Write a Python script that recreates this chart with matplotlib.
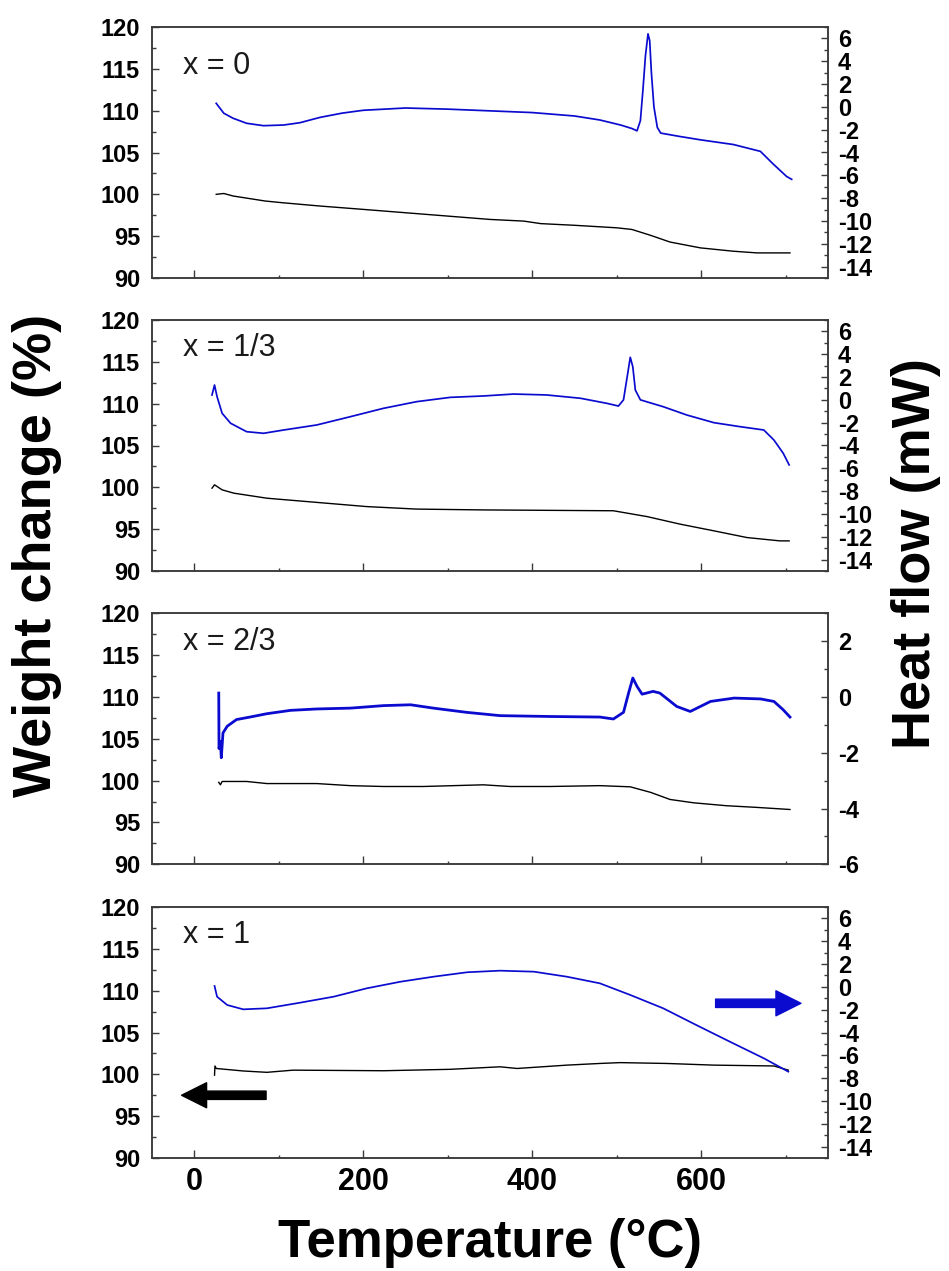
"""TGA / DSC panels for the four compositions (x = 0, 1/3, 2/3, 1)."""

import matplotlib

matplotlib.use("Agg")
import matplotlib.pyplot as plt
from matplotlib.ticker import MultipleLocator

plt.rcParams.update(
    {
        "font.family": ["Liberation Sans", "DejaVu Sans"],
        "font.weight": "bold",
        "axes.unicode_minus": False,
    }
)

COLOR_HF = "#0b0bd0"
COLOR_WT = "#000000"
COLOR_FRAME = "#3a3a3a"

LABELS = ["x = 0", "x = 1/3", "x = 2/3", "x = 1"]

# x = 0
T_HF_0 = [26, 35, 46, 62, 82, 106, 125, 149, 175, 200, 250, 300, 350, 400, 450, 480,
          505, 518, 524, 528, 531, 534, 537, 539, 541, 544, 548, 552, 575, 600, 638,
          670, 685, 701, 707]
HF_0 = [0.31, -0.56, -1.0, -1.44, -1.65, -1.59, -1.39, -0.92, -0.55, -0.3, -0.1, -0.2,
        -0.35, -0.5, -0.8, -1.15, -1.6, -1.9, -2.1, -1.2, 1.5, 4.5, 6.4, 5.8, 3.0, 0.0,
        -1.8, -2.3, -2.6, -2.9, -3.3, -3.9, -5.0, -6.1, -6.35]
T_WT_0 = [26, 35, 46, 84, 104, 149, 200, 250, 300, 350, 390, 410, 450, 500, 518, 540,
          563, 599, 638, 666, 705]
WT_0 = [100.0, 100.1, 99.8, 99.2, 99.0, 98.6, 98.2, 97.8, 97.4, 97.0, 96.8, 96.5, 96.3,
        96.0, 95.8, 95.1, 94.3, 93.6, 93.2, 93.0, 93.0]

# x = 1/3
T_HF_1 = [21, 24, 27, 33, 43, 62, 82, 106, 145, 185, 224, 263, 303, 342, 378, 417, 457,
          488, 502, 508, 513, 516, 519, 522, 528, 555, 583, 615, 646, 674, 686, 697, 704]
HF_1 = [0.43, 1.3, 0.28, -1.18, -2.05, -2.79, -2.93, -2.64, -2.2, -1.47, -0.74, -0.16,
        0.22, 0.34, 0.51, 0.43, 0.14, -0.3, -0.54, 0.0, 2.33, 3.73, 2.9, 0.86, 0.0,
        -0.6, -1.33, -2.0, -2.35, -2.64, -3.52, -4.68, -5.7]
T_WT_1 = [21, 24, 33, 47, 86, 145, 204, 263, 342, 496, 536, 575, 615, 654, 693, 704]
WT_1 = [99.9, 100.3, 99.7, 99.3, 98.7, 98.2, 97.7, 97.4, 97.3, 97.2, 96.5, 95.6, 94.8,
        94.0, 93.6, 93.6]

# x = 2/3
T_HF_2 = [29, 29.3, 31, 32, 34, 39, 50, 66, 86, 114, 145, 185, 224, 256, 283, 322, 362,
          421, 480, 496, 508, 514, 519, 524, 530, 543, 551, 571, 587, 611, 639, 670,
          686, 697, 705]
HF_2 = [0.14, -1.85, -1.6, -2.18, -1.29, -1.05, -0.81, -0.72, -0.6, -0.48, -0.43, -0.4,
        -0.31, -0.28, -0.4, -0.55, -0.67, -0.7, -0.72, -0.79, -0.55, 0.14, 0.68, 0.38,
        0.1, 0.2, 0.14, -0.34, -0.52, -0.16, -0.04, -0.07, -0.16, -0.46, -0.72]
T_WT_2 = [29, 31, 33, 62, 86, 145, 185, 224, 271, 342, 374, 421, 480, 516, 540, 563,
          591, 630, 666, 705]
WT_2 = [99.8, 99.5, 99.9, 99.9, 99.65, 99.65, 99.4, 99.3, 99.3, 99.5, 99.3, 99.3, 99.4,
        99.26, 98.6, 97.75, 97.35, 97.0, 96.8, 96.55]

# x = 1
T_HF_3 = [24, 27, 39, 58, 86, 125, 165, 204, 244, 283, 323, 362, 402, 441, 480, 516,
          555, 594, 634, 674, 703]
HF_3 = [0.08, -0.86, -1.59, -1.97, -1.88, -1.39, -0.86, -0.13, 0.45, 0.89, 1.28, 1.42,
        1.33, 0.89, 0.31, -0.71, -1.88, -3.34, -4.81, -6.26, -7.43]
T_WT_3 = [24, 24.5, 26, 58, 86, 117, 224, 303, 362, 382, 441, 480, 504, 559, 615, 686,
          703]
WT_3 = [99.9, 101.0, 100.7, 100.4, 100.24, 100.5, 100.43, 100.6, 100.9, 100.7, 101.1,
        101.3, 101.4, 101.3, 101.1, 101.0, 100.5]

HF_LIMITS = [(-15, 7), (-15, 7), (-6, 3), (-15, 7)]
LABEL_Y = [115.3, 116.6, 116.6, 116.6]

T_HF = [T_HF_0, T_HF_1, T_HF_2, T_HF_3]
HF = [HF_0, HF_1, HF_2, HF_3]
T_WT = [T_WT_0, T_WT_1, T_WT_2, T_WT_3]
WT = [WT_0, WT_1, WT_2, WT_3]

W, H = 949, 1271
fig = plt.figure(figsize=(W / 100, H / 100), dpi=100)

tops = [27, 320, 613.3, 907]
ax_h = 251
for i, top in enumerate(tops):
    ax = fig.add_axes([152 / W, 1 - (top + ax_h) / H, 676 / W, ax_h / H])
    ax2 = ax.twinx()

    ax.plot(T_WT[i], WT[i], color=COLOR_WT, lw=1.0)
    ax2.plot(T_HF[i], HF[i], color=COLOR_HF, lw=2.0 if i == 2 else 1.25)

    ax.set_xlim(-50, 750)
    ax.set_ylim(90, 120)
    ax2.set_ylim(*HF_LIMITS[i])

    ax.xaxis.set_major_locator(MultipleLocator(200))
    ax.xaxis.set_minor_locator(MultipleLocator(100))
    ax.yaxis.set_major_locator(MultipleLocator(5))
    ax.yaxis.set_minor_locator(MultipleLocator(2.5))
    ax2.yaxis.set_major_locator(MultipleLocator(2))
    ax2.yaxis.set_minor_locator(MultipleLocator(1))

    ax.tick_params(axis="x", which="both", direction="in", top=False, color=COLOR_FRAME,
                   labelbottom=(i == 3), labelsize=22, pad=6.5)
    ax.tick_params(axis="x", which="major", length=6, width=1.0)
    ax.tick_params(axis="x", which="minor", length=2.5, width=1.0)
    ax.tick_params(axis="y", which="both", direction="in", color=COLOR_FRAME,
                   labelsize=17, pad=8.6)
    ax.tick_params(axis="y", which="major", length=5, width=1.0)
    ax.tick_params(axis="y", which="minor", length=3, width=1.0)
    ax2.tick_params(axis="y", which="both", direction="in", color=COLOR_FRAME,
                    labelsize=17, pad=7.2)
    ax2.tick_params(axis="y", which="major", length=5, width=1.0)
    ax2.tick_params(axis="y", which="minor", length=3, width=1.0)

    for a in (ax, ax2):
        for sp in a.spines.values():
            sp.set_color(COLOR_FRAME)
            sp.set_linewidth(1.1)

    ax.text(-13, LABEL_Y[i], LABELS[i], fontsize=22, fontweight="normal",
            color="#1a1a1a", ha="left", va="center")

    if i == 3:
        arrow_style = "simple,head_width=1.8,head_length=1.8,tail_width=0.6"
        ax2.annotate("", xy=(718, -1.44), xytext=(617, -1.44),
                     arrowprops=dict(arrowstyle=arrow_style, mutation_scale=10,
                                     color=COLOR_HF, shrinkA=0, shrinkB=0))
        ax.annotate("", xy=(-15, 97.5), xytext=(85, 97.5),
                    arrowprops=dict(arrowstyle=arrow_style, mutation_scale=10,
                                    color=COLOR_WT, shrinkA=0, shrinkB=0))

fig.text(490 / W, 1 - 1257 / H, "Temperature (°C)", fontsize=38, ha="center",
         va="baseline")
fig.text(37 / W, 1 - 555 / H, "Weight change (%)", fontsize=39, rotation=90,
         ha="center", va="center")
fig.text(916 / W, 1 - 554 / H, "Heat flow (mW)", fontsize=39, rotation=90,
         ha="center", va="center")

fig.savefig("out.png", dpi=100, facecolor="white")
